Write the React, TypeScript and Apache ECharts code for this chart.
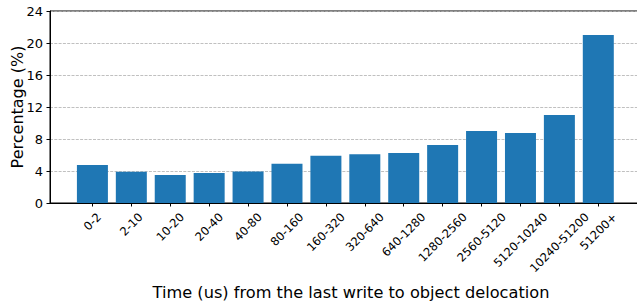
import React, { useEffect, useRef } from "react";
import * as echarts from "echarts";

const categories = [
  "0-2", "2-10", "10-20", "20-40", "40-80", "80-160", "160-320", "320-640",
  "640-1280", "1280-2560", "2560-5120", "5120-10240", "10240-51200", "51200+",
];
const percentages = [4.75, 3.9, 3.5, 3.75, 3.95, 4.9, 5.9, 6.1, 6.25, 7.25, 9.0, 8.75, 11.0, 21.0];
const yTicks = [0, 4, 8, 12, 16, 20, 24];
const yTitle = "Percentage (%)";
const xTitle = "Time (us) from the last write to object delocation";

const FONT = "DejaVu Sans";
const XFS = 11.6;

export default function App() {
  const ref = useRef<HTMLDivElement>(null);
  useEffect(() => {
    if (!ref.current) return;
    const chart = echarts.init(ref.current, undefined, { renderer: "svg" });
    const idx = categories.map((_, i) => i);
    chart.setOption({
      animation: false,
      textStyle: { fontFamily: FONT },
      grid: {
        left: 50, top: 11, width: 602, height: 192,
        containLabel: false,
        outerBoundsMode: "none",
        show: true, borderColor: "#000", borderWidth: 1, backgroundColor: "transparent",
      },
      xAxis: {
        type: "value",
        min: -1.09,
        max: 14.38,
        name: xTitle,
        nameLocation: "middle",
        nameGap: 81,
        nameMoveOverlap: false,
        nameTextStyle: { fontSize: 16.2, color: "#000", fontFamily: FONT },
        axisLine: { show: true, onZero: false, lineStyle: { color: "#000", width: 1 } },
        axisTick: { show: true, customValues: idx, length: 3.5, lineStyle: { color: "#000", width: 1 } },
        axisLabel: { show: false, customValues: idx },
        splitLine: { show: false },
      },
      yAxis: {
        type: "value",
        min: yTicks[0],
        max: yTicks[yTicks.length - 1],
        interval: 4,
        name: yTitle,
        nameLocation: "middle",
        nameGap: 25,
        nameMoveOverlap: false,
        nameTextStyle: { fontSize: 16, color: "#000", fontFamily: FONT },
        axisLine: { show: true, onZero: false, lineStyle: { color: "#000", width: 1 } },
        axisTick: { show: true, length: 3.5, lineStyle: { color: "#000", width: 1 } },
        axisLabel: { fontSize: 13, color: "#000", margin: 7, fontFamily: FONT },
        splitLine: { show: true, lineStyle: { color: "#b0b0b0", width: 0.8, type: [3, 1.3] } },
      },
      series: [
        {
          type: "bar",
          data: percentages.map((v, i) => [i, v]),
          barWidth: 31,
          itemStyle: { color: "#1f77b4" },
        },
      ],
    });

    // rotated tick labels, centred under ticks like matplotlib rotation=45
    const canvas = document.createElement("canvas");
    const ctx = canvas.getContext("2d")!;
    ctx.font = `${XFS}px "${FONT}"`;
    const c = Math.SQRT1_2;
    const capH = 0.73 * XFS;
    const axisY = chart.convertToPixel({ gridIndex: 0 }, [0, 0])[1];
    const inkTop = axisY + 9;
    const labels = categories.map((name, i) => {
      const tx = chart.convertToPixel({ xAxisIndex: 0 }, i) as number;
      const w = ctx.measureText(name).width;
      return {
        type: "text",
        x: tx,
        y: inkTop + ((w + capH) / 2) * c,
        rotation: Math.PI / 4,
        style: {
          text: name,
          font: `${XFS}px "${FONT}"`,
          fill: "#000",
          align: "center",
          verticalAlign: "middle",
        },
      };
    });
    chart.setOption({ graphic: labels });
    return () => chart.dispose();
  }, []);
  return (
    <div
      ref={ref}
      style={{ position: "absolute", left: 0, top: 0, width: 637, height: 301 }}
    />
  );
}
